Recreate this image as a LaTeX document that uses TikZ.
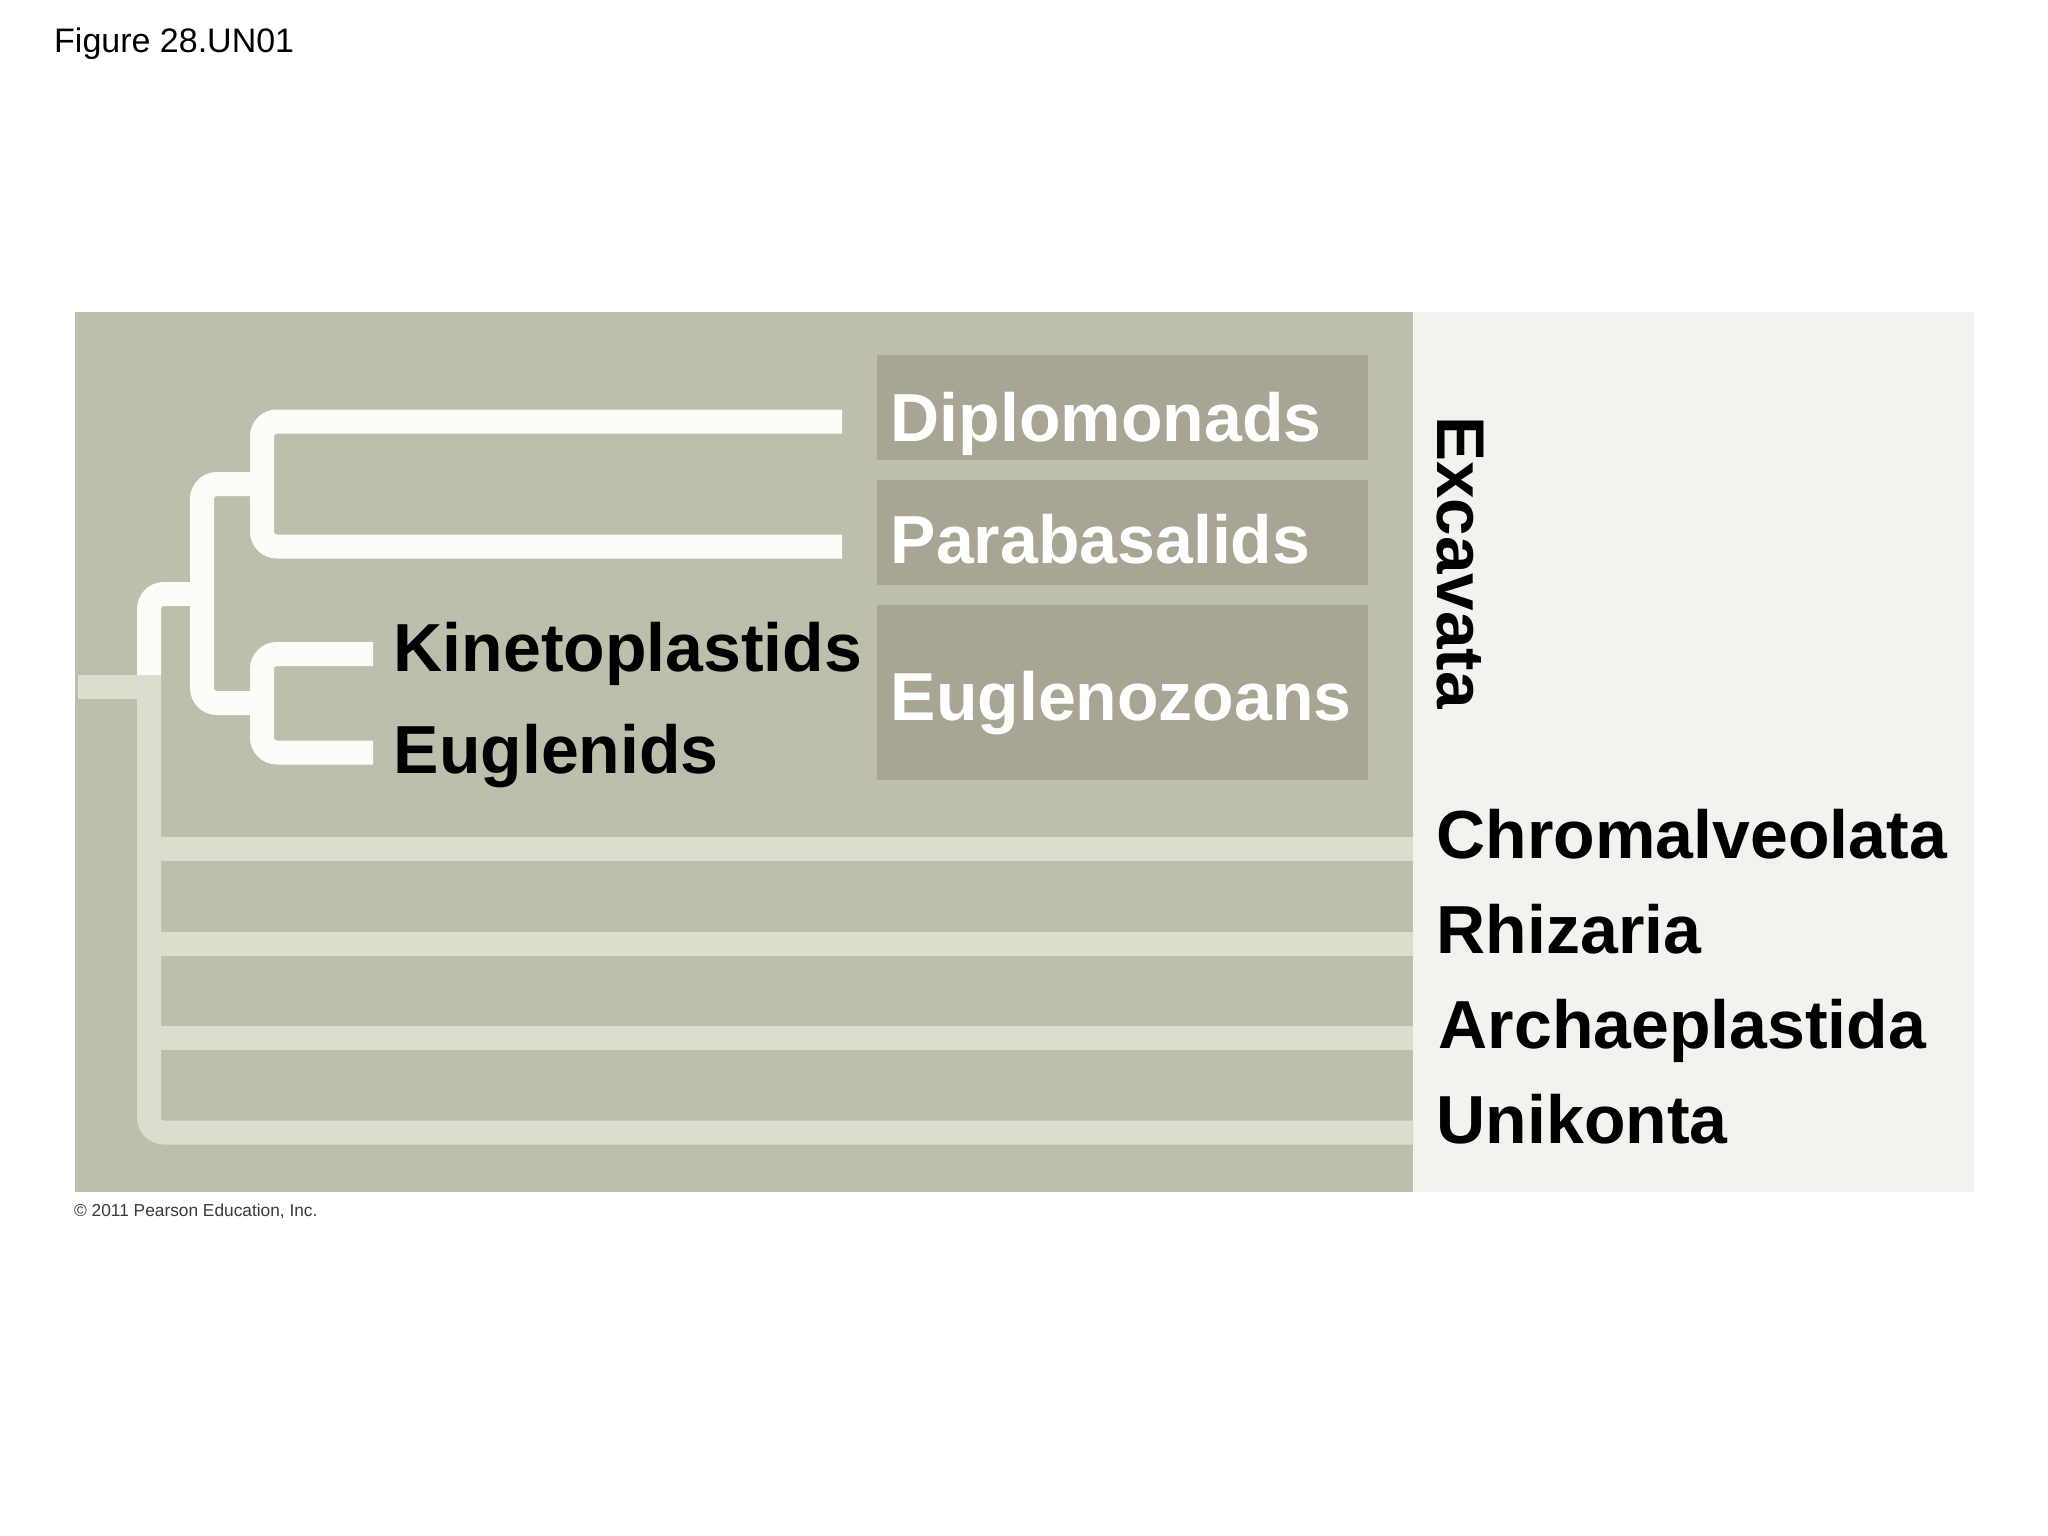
\documentclass[tikz,border=0pt]{standalone}
\usepackage{fontspec}
\setmainfont{Liberation Sans}
\definecolor{panelc}{HTML}{BEBEAC}
\definecolor{boxc}{HTML}{A9A595}
\definecolor{branchc}{HTML}{FDFCF8}
\definecolor{stripec}{HTML}{DDDDCF}
\definecolor{rightc}{HTML}{F3F2EE}
\definecolor{copyc}{HTML}{3A3A3A}
\begin{document}
\begin{tikzpicture}[x=1pt,y=-1pt,
  lbl/.style={anchor=base west, inner sep=0pt, text=black,
              font=\fontsize{68}{80}\selectfont\bfseries},
  wlbl/.style={lbl, text=white},
  branch/.style={draw=branchc, line width=24pt, rounded corners=15pt},
  stripe/.style={draw=stripec, line width=24pt, rounded corners=15pt},
  taxbox/.style={fill=boxc, draw=none}]
% canvas
\useasboundingbox (0,0) rectangle (2048,1536);
\fill[white] (0,0) rectangle (2048,1536);
% panels
\fill[panelc] (75,311.5) rectangle (1412.5,1191.5);
\fill[rightc] (1412.5,311.5) rectangle (1973.5,1191.5);
% boxes
\fill[taxbox] (877,355) rectangle (1368,460);
\fill[taxbox] (877,480) rectangle (1368,585);
\fill[taxbox] (877,605) rectangle (1368,780);
% tree coordinates
\coordinate (dipE) at (842,421.5);
\coordinate (parE) at (842,546.5);
\coordinate (kinE) at (373,654);
\coordinate (eugE) at (373,752.5);
\coordinate (n1) at (262,484);
\coordinate (n2) at (262,703);
\coordinate (n3) at (202,594);
\coordinate (v) at (149,675);
\coordinate (root) at (78,686.5);
\coordinate (rootJ) at (161,686.5);
\coordinate (chrE) at (1412.5,849);
\coordinate (rhiE) at (1412.5,944);
\coordinate (arcE) at (1412.5,1038);
\coordinate (uniE) at (1412.5,1132.5);
% light (beige) stem and branches
\draw[stripe] (root) -- (rootJ);
\draw[stripe] (v) -- (v |- uniE) -- (uniE);
\draw[stripe] (v |- chrE) -- (chrE);
\draw[stripe] (v |- rhiE) -- (rhiE);
\draw[stripe] (v |- arcE) -- (arcE);
% white Excavata tree
\draw[branch] (n3) -- (n3 -| v) -- (v);
\draw[branch] (n1) -- (n1 -| n3) -- (n2 -| n3) -- (n2);
\draw[branch] (dipE) -- (dipE -| n1) -- (parE -| n1) -- (parE);
\draw[branch] (kinE) -- (kinE -| n2) -- (eugE -| n2) -- (eugE);
% labels
\node[wlbl] (dip) at (890.5,441.5) {Diplomonads};
\node[wlbl] (par) at (890.5,563) {Parabasalids};
\node[wlbl] (eglz) at (890.5,720) {Euglenozoans};
\node[lbl] (kin) at (393.5,671.5) {Kinetoplastids};
\node[lbl] (eug) at (393.5,773) {Euglenids};
\node[lbl, rotate=-90, font=\fontsize{67.5}{80}\selectfont\bfseries] (exc) at (1437,416) {Excavata};
\node[lbl] (chr) at (1436.5,858) {Chromalveolata};
\node[lbl] (rhi) at (1436.5,953) {Rhizaria};
\node[lbl] (arc) at (1438.5,1048) {Archaeplastida};
\node[lbl] (uni) at (1436.5,1143) {Unikonta};
\node[anchor=base west, inner sep=0pt, font=\fontsize{34}{40}\selectfont] (fig) at (54,53) {Figure 28.UN01};
\node[anchor=base west, inner sep=0pt, text=copyc, font=\fontsize{17.3}{20}\selectfont] (copy) at (74,1216) {\textcopyright\ 2011 Pearson Education, Inc.};
\end{tikzpicture}
\end{document}
